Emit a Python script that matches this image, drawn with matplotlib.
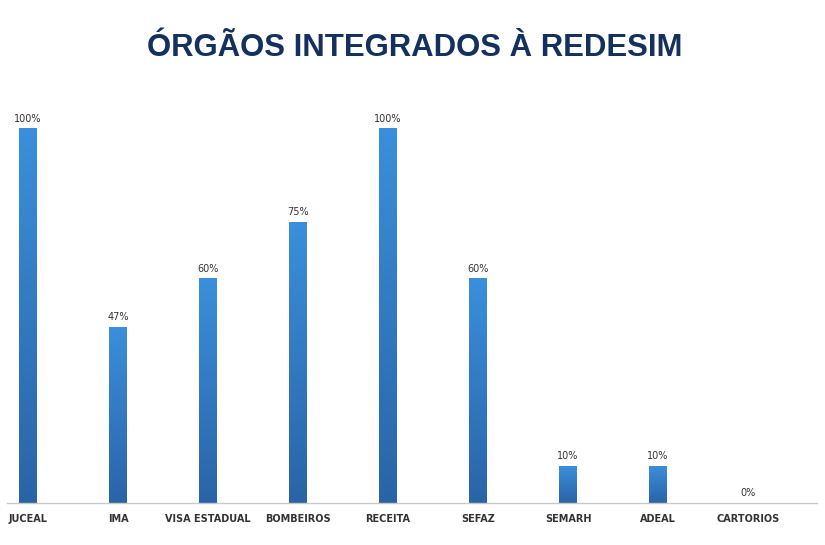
import matplotlib.pyplot as plt
import numpy as np
from matplotlib.colors import LinearSegmentedColormap

orgaos = ['JUCEAL', 'IMA', 'VISA ESTADUAL', 'BOMBEIROS', 'RECEITA',
          'SEFAZ', 'SEMARH', 'ADEAL', 'CARTORIOS']
percentuais = [100, 47, 60, 75, 100, 60, 10, 10, 0]

fig = plt.figure(figsize=(8.25, 5.45), dpi=100)
ax = fig.add_axes([7 / 825, 42 / 545, 810 / 825, 408 / 545])

x = np.arange(len(orgaos))
bars = ax.bar(x, percentuais, width=0.19, color='none', edgecolor='none')

# gradiente vertical em cada barra (claro em cima, escuro embaixo)
cmap = LinearSegmentedColormap.from_list('azul', ['#2a64a6', '#3b8fdc'])
grad = np.linspace(0, 1, 256).reshape(-1, 1)
for b in bars:
    h = b.get_height()
    if h <= 0:
        continue
    x0 = b.get_x()
    im = ax.imshow(grad, cmap=cmap, origin='lower', aspect='auto',
                   extent=[x0, x0 + b.get_width(), 0, h], zorder=2)
    im.set_clip_path(b)

for xi, v in zip(x, percentuais):
    ax.text(xi, v + 1.2, f'{v}%', ha='center', va='bottom',
            fontsize=7, color='#333333')

ax.set_xlim(-21 / 90, 789 / 90)
ax.set_ylim(0, 108.8)
ax.set_xticks(x)
ax.set_xticklabels(orgaos, fontsize=7, fontweight='bold', color='#333333')
ax.tick_params(axis='x', length=0, pad=8)
ax.set_yticks([])
for s in ['top', 'right', 'left']:
    ax.spines[s].set_visible(False)
ax.spines['bottom'].set_color('#c8c8c8')
ax.spines['bottom'].set_linewidth(1)

fig.text(0.503, 0.912, 'ÓRGÃOS INTEGRADOS À REDESIM', ha='center', va='center',
         fontsize=22.4, fontweight='bold', color='#13305e',
         family=['Liberation Sans', 'DejaVu Sans'])

plt.savefig('out.png', dpi=100)
